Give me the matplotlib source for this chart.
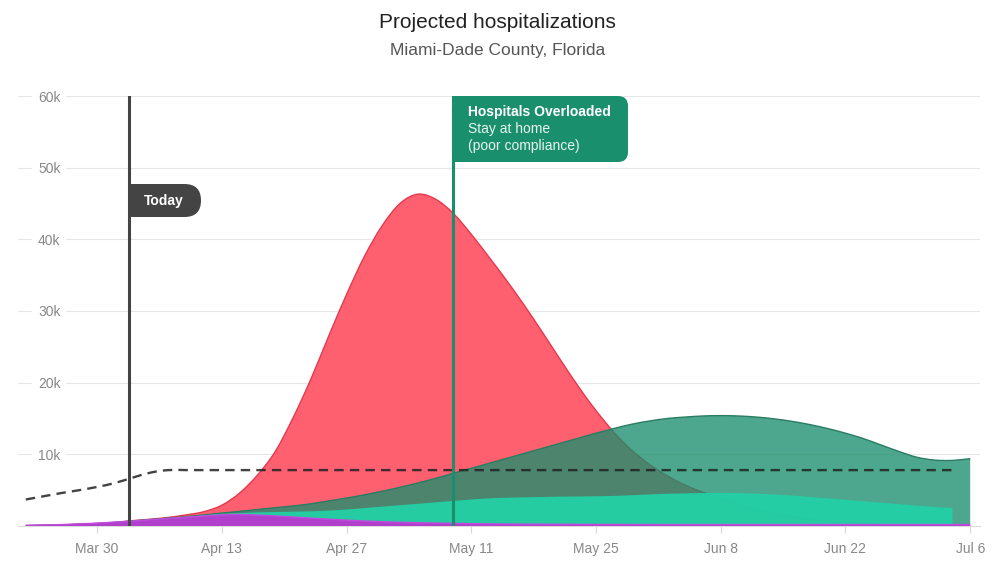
import numpy as np
import pandas as pd
import matplotlib
matplotlib.use("Agg")
import matplotlib.pyplot as plt
import matplotlib.dates as mdates
from matplotlib.patches import FancyBboxPatch, Rectangle, PathPatch
from matplotlib.path import Path
from matplotlib.transforms import IdentityTransform

plt.rcParams['font.family'] = ['Liberation Sans', 'DejaVu Sans']

# values in thousands, every 2 days from Mar 22
dates = pd.date_range("2020-03-22", periods=54, freq="2D")

red = [0.05, 0.1, 0.15, 0.25, 0.35, 0.5, 0.75, 0.95, 1.2, 1.55,
       2.0, 2.9, 4.6, 7.1, 10.4, 15.1, 20.5, 26.5, 32.3, 37.6,
       41.9, 45.0, 46.3, 45.6, 43.6, 40.7, 37.5, 34.2, 30.7, 27.0,
       23.2, 19.5, 16.1, 13.1, 10.6, 8.6, 7.0, 5.7, 4.7, 3.8,
       3.0, 2.3, 1.7, 1.3, 0.95, 0.7, 0.5, 0.35, 0.25, 0.15,
       0.1, 0.05, 0.03, 0.02]

dark_green = [0.05, 0.1, 0.15, 0.25, 0.35, 0.5, 0.7, 0.9, 1.1, 1.3,
              1.55, 1.8, 2.05, 2.3, 2.55, 2.8, 3.1, 3.5, 3.9, 4.35,
              4.85, 5.4, 6.0, 6.65, 7.35, 8.05, 8.75, 9.45, 10.15, 10.85,
              11.55, 12.25, 12.95, 13.6, 14.2, 14.65, 15.0, 15.2, 15.35, 15.4,
              15.35, 15.2, 14.95, 14.6, 14.15, 13.6, 12.95, 12.2, 11.3, 10.4,
              9.6, 9.2, 9.15, 9.4]

light_green = [0.05, 0.1, 0.15, 0.25, 0.35, 0.5, 0.7, 0.9, 1.1, 1.3,
               1.5, 1.7, 1.8, 1.9, 1.95, 2.0, 2.05, 2.15, 2.3, 2.5,
               2.7, 2.9, 3.1, 3.3, 3.5, 3.7, 3.85, 3.95, 4.0, 4.05,
               4.1, 4.12, 4.15, 4.2, 4.3, 4.4, 4.5, 4.55, 4.6, 4.6,
               4.58, 4.5, 4.4, 4.25, 4.05, 3.85, 3.65, 3.45, 3.25, 3.05,
               2.85, 2.65, 2.5]

purple = [0.1, 0.15, 0.2, 0.3, 0.4, 0.55, 0.7, 0.88, 1.05, 1.22,
          1.4, 1.55, 1.6, 1.52, 1.4, 1.25, 1.1, 0.95, 0.82, 0.7,
          0.6, 0.52, 0.46, 0.41, 0.37, 0.33, 0.3, 0.28, 0.26, 0.25,
          0.24, 0.23, 0.22, 0.22, 0.21, 0.21, 0.2, 0.2, 0.2, 0.2,
          0.2, 0.2, 0.2, 0.2, 0.2, 0.2, 0.2, 0.2, 0.2, 0.2,
          0.2, 0.2, 0.2, 0.2]

capacity = [3.7, 4.15, 4.6, 5.0, 5.45, 6.0, 6.75, 7.45, 7.8, 7.8,
            7.8, 7.8, 7.8, 7.8, 7.8, 7.8, 7.8, 7.8, 7.8, 7.8,
            7.8, 7.8, 7.8, 7.8, 7.8, 7.8, 7.8, 7.8, 7.8, 7.8,
            7.8, 7.8, 7.8, 7.8, 7.8, 7.8, 7.8, 7.8, 7.8, 7.8,
            7.8, 7.8, 7.8, 7.8, 7.8, 7.8, 7.8, 7.8, 7.8, 7.8,
            7.8, 7.8, 7.8]

tick_dates = pd.date_range("2020-03-30", periods=8, freq="14D")
tick_labels = ["Mar 30", "Apr 13", "Apr 27", "May 11", "May 25", "Jun 8", "Jun 22", "Jul 6"]
y_ticks = [10, 20, 30, 40, 50, 60]
y_labels = ["10k", "20k", "30k", "40k", "50k", "60k"]

today = pd.Timestamp("2020-04-02 15:00")
overloaded = pd.Timestamp("2020-05-09")


def smooth_curve(x, y):
    # cubic bezier through the points, slopes from neighbouring points
    x = np.asarray(x, float)
    y = np.asarray(y, float)
    m = np.gradient(y, x)
    verts = [(x[0], y[0])]
    codes = [Path.MOVETO]
    for i in range(len(x) - 1):
        d = (x[i + 1] - x[i]) / 3
        verts += [(x[i] + d, y[i] + m[i] * d), (x[i + 1] - d, y[i + 1] - m[i + 1] * d),
                  (x[i + 1], y[i + 1])]
        codes += [Path.CURVE4] * 3
    return verts, codes


def smooth_area(ax, d, y, color, alpha=1.0, edge=None, z=2):
    x = mdates.date2num(d)
    verts, codes = smooth_curve(x, y)
    fv = verts + [(x[-1], 0), (x[0], 0), (x[0], 0)]
    fc = codes + [Path.LINETO, Path.LINETO, Path.CLOSEPOLY]
    ax.add_patch(PathPatch(Path(fv, fc), fc=color, ec="none", alpha=alpha, zorder=z))
    if edge is not None:
        ax.add_patch(PathPatch(Path(verts, codes), fill=False, ec=edge, lw=1, zorder=z + 0.1))


W, H = 995, 569
fig = plt.figure(figsize=(W / 100, H / 100), dpi=100)
ax = fig.add_axes([18 / W, (H - 526) / H, (980 - 18) / W, 430 / H])

t0 = pd.Timestamp("2020-03-22")
ax.set_xlim(t0 - pd.Timedelta(hours=21), t0 + pd.Timedelta(days=107.1))
ax.set_ylim(0, 60)

smooth_area(ax, dates, red, "#fe6070", edge="#e4394f", z=2)
smooth_area(ax, dates, dark_green, "#1a8f6e", alpha=0.78, edge="#2a7c62", z=3)
smooth_area(ax, dates[:53], light_green, "#22d1a6", alpha=0.93, z=4)
smooth_area(ax, dates, purple, "#b040cc", edge="#c24ade", z=5)

cv, cc = smooth_curve(mdates.date2num(dates[:53]), capacity)
ax.add_patch(PathPatch(Path(cv, cc), fill=False, ec="#222222", alpha=0.85, lw=1.7,
                       linestyle=(0, (4, 2.6)), zorder=6))

ax.axvline(today, color="#444444", lw=2.2, zorder=7)
ax.axvline(overloaded, color="#1a8f6e", lw=2.2, zorder=7)

ax.set_yticks(y_ticks)
ax.set_yticklabels(y_labels)
ax.set_xticks(tick_dates)
ax.set_xticklabels(tick_labels)
ax.grid(axis="y", color="#e6e6e6", lw=0.8)
ax.tick_params(axis="y", length=0, pad=-14.4, labelsize=10, labelcolor="#888888")
for t in ax.get_yticklabels():
    t.set_horizontalalignment("left")
    t.set_bbox(dict(facecolor="white", edgecolor="none", pad=4))
ax.tick_params(axis="x", length=5, width=0.8, color="#d8d8d8", pad=6.5,
               labelsize=10, labelcolor="#888888")
for s in ["top", "right", "left"]:
    ax.spines[s].set_visible(False)
ax.spines["bottom"].set_color("#dddddd")
ax.spines["bottom"].set_linewidth(0.8)

# annotation boxes, drawn in pixel coordinates
ident = IdentityTransform()
tx, _ = ax.transData.transform((mdates.date2num(today), 0))
tx -= 1
box_top, box_bot = H - 184, H - 217
r = (box_top - box_bot) / 2
ax.add_patch(FancyBboxPatch((tx, box_bot), 201 - tx, box_top - box_bot,
                            boxstyle=f"round,pad=0,rounding_size={r}",
                            fc="#444444", ec="none", transform=ident, zorder=8))
ax.add_patch(Rectangle((tx, box_bot), 25, box_top - box_bot, fc="#444444",
                       ec="none", transform=ident, zorder=8))
ax.text(tx + 35, (box_top + box_bot) / 2, "Today", transform=ident, color="white",
        fontsize=10, fontweight="bold", ha="center", va="center", zorder=9)

ox, _ = ax.transData.transform((mdates.date2num(overloaded), 0))
ox -= 1.5
otop, obot = H - 96, H - 162
ax.add_patch(FancyBboxPatch((ox, obot), 628 - ox, otop - obot,
                            boxstyle="round,pad=0,rounding_size=10",
                            fc="#1a8f6e", ec="none", transform=ident, zorder=8))
ax.add_patch(Rectangle((ox, obot), 20, otop - obot, fc="#1a8f6e",
                       ec="none", transform=ident, zorder=8))
ax.text(ox + 16, H - 112, "Hospitals Overloaded", transform=ident, color="white",
        fontsize=10, fontweight="bold", ha="left", va="center", zorder=9)
ax.text(ox + 16, H - 129, "Stay at home", transform=ident, color="#e8f5f0",
        fontsize=10, ha="left", va="center", zorder=9)
ax.text(ox + 16, H - 146, "(poor compliance)", transform=ident, color="#e8f5f0",
        fontsize=10, ha="left", va="center", zorder=9)

fig.text(0.5, 1 - 23 / H, "Projected hospitalizations", ha="center", va="center",
         fontsize=15, color="#222222")
fig.text(0.5, 1 - 50 / H, "Miami-Dade County, Florida", ha="center", va="center",
         fontsize=12.5, color="#555555")

fig.savefig("out.png", dpi=100)
